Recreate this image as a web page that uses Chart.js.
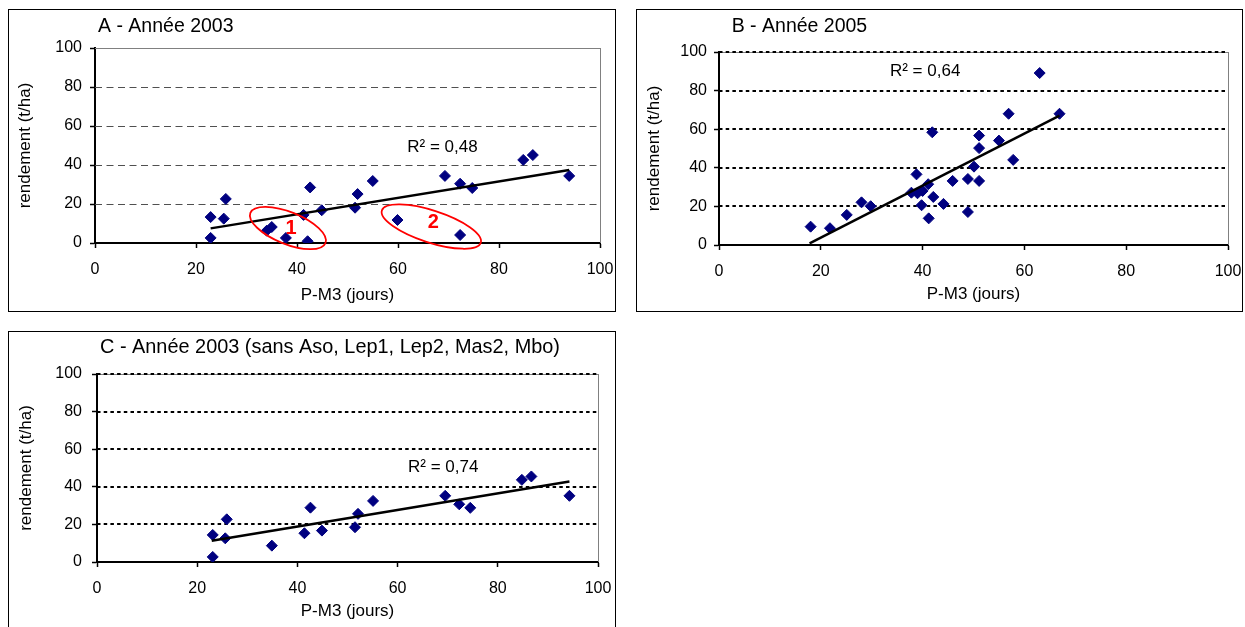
<!DOCTYPE html>
<html><head><meta charset="utf-8">
<script src="https://cdn.jsdelivr.net/npm/chart.js@4.4.1/dist/chart.umd.min.js"></script>
<style>
html,body{margin:0;padding:0;background:#fff;overflow:hidden;width:1245px;height:627px}
.box{position:absolute;border:1px solid #000;background:#fff;box-sizing:border-box}
.box canvas{position:absolute;left:0;top:0}
</style></head><body>
<div class="box" style="left:8px;top:9px;width:608px;height:303px"><canvas id="cA" width="606" height="301"></canvas></div>
<div class="box" style="left:636px;top:9px;width:607px;height:303px"><canvas id="cB" width="605" height="301"></canvas></div>
<div class="box" style="left:8px;top:331px;width:608px;height:303px"><canvas id="cC" width="606" height="301"></canvas></div>
<script>
// ---------------- data ----------------
const xTickLabels = [0, 20, 40, 60, 80, 100];
const yTickLabels = [0, 20, 40, 60, 80, 100];

const titleA = 'A - Année 2003';
const titleB = 'B - Année 2005';
const titleC = 'C - Année 2003 (sans Aso, Lep1, Lep2, Mas2, Mbo)';
const xAxisTitle = 'P-M3 (jours)';
const yAxisTitle = 'rendement (t/ha)';

// A - 2003
const pm3_2003 = [22.9, 22.9, 25.9, 25.5, 34.0, 35.0, 37.8, 41.3, 42.1, 42.6, 44.9, 51.5, 52.0, 55.0, 59.9, 69.3, 72.3, 74.7, 72.3, 84.8, 86.7, 93.9];
const rdt_2003 = [13.3, 2.6, 22.6, 12.5, 6.3, 8.2, 2.6, 14.4, 0.9, 28.5, 16.8, 18.1, 25.1, 31.8, 11.8, 34.4, 30.4, 28.2, 4.1, 42.6, 45.1, 34.4];
const trend2003_x = [22.9, 93.9];
const trend2003_y = [7.5, 37.4];
const r2_2003 = 'R² = 0,48';

// B - 2005
const pm3_2005 = [18.0, 21.8, 25.1, 28.0, 29.8, 37.8, 38.8, 39.0, 40.0, 39.8, 41.1, 41.2, 41.9, 42.1, 44.1, 45.9, 48.9, 48.9, 50.1, 51.1, 51.1, 51.1, 55.0, 56.9, 57.8, 63.0, 66.9];
const rdt_2005 = [9.5, 8.7, 15.6, 22.1, 20.1, 27.1, 36.6, 26.8, 28.0, 20.6, 31.5, 13.8, 58.4, 24.9, 21.3, 33.2, 34.2, 17.1, 40.6, 33.2, 50.2, 56.7, 54.1, 68.0, 44.1, 89.1, 68.0];
const trend2005_x = [17.8, 66.9];
const trend2005_y = [0.9, 67.0];
const r2_2005 = 'R² = 0,64';

// C - 2003 sans Aso, Lep1, Lep2, Mas2, Mbo
const pm3_2003c = [23.1, 23.1, 25.9, 25.6, 34.9, 41.4, 42.6, 44.9, 51.5, 52.1, 55.1, 69.5, 72.3, 74.5, 84.8, 86.7, 94.3];
const rdt_2003c = [14.4, 2.7, 22.7, 12.6, 8.7, 15.3, 28.9, 16.7, 18.5, 25.6, 32.5, 35.2, 30.7, 28.8, 43.7, 45.5, 35.2];
const trend2003c_x = [22.9, 94.3];
const trend2003c_y = [11.3, 42.8];
const r2_2003c = 'R² = 0,74';

const groupLabels = ['1', '2'];

// ---------------- drawing ----------------
const FONT = '"Liberation Sans", Arial, sans-serif';

const decor = {
  id: 'decor',
  beforeDatasetsDraw(chart, args, o) {
    const {ctx, chartArea: ca, scales: {x, y}} = chart;
    ctx.save();
    yTickLabels.forEach(v => {
      if (v === yTickLabels[0]) return;
      const py = y.getPixelForValue(v);
      if (v === yTickLabels[yTickLabels.length - 1]) {
        ctx.strokeStyle = '#808080'; ctx.lineWidth = 1; ctx.setLineDash([]);
        ctx.beginPath(); ctx.moveTo(ca.left, Math.round(py) + 0.5); ctx.lineTo(ca.right, Math.round(py) + 0.5); ctx.stroke();
        if (o.grid === 'dashed') return;
      }
      if (o.grid === 'dashed') {
        ctx.strokeStyle = '#505050'; ctx.lineWidth = 1; ctx.setLineDash([7, 4.5]);
        ctx.beginPath(); ctx.moveTo(ca.left, Math.round(py) + 0.5); ctx.lineTo(ca.right, Math.round(py) + 0.5); ctx.stroke();
      } else {
        ctx.strokeStyle = '#000'; ctx.lineWidth = 2; ctx.setLineDash([3.5, 3.2]);
        ctx.beginPath(); ctx.moveTo(ca.left, Math.round(py)); ctx.lineTo(ca.right, Math.round(py)); ctx.stroke();
      }
    });
    // right border of plot area
    ctx.setLineDash([]);
    ctx.strokeStyle = '#808080'; ctx.lineWidth = 1;
    ctx.beginPath(); ctx.moveTo(Math.round(ca.right) + 0.5, ca.top); ctx.lineTo(Math.round(ca.right) + 0.5, ca.bottom); ctx.stroke();
    ctx.restore();
  },
  afterDatasetsDraw(chart, args, o) {
    const {ctx, scales: {x, y}} = chart;
    ctx.save();
    (o.groups || []).forEach(g => {
      const cx = x.getPixelForValue(g.at[0]), cy = y.getPixelForValue(g.at[1]);
      ctx.strokeStyle = '#ff0000'; ctx.lineWidth = 1.75;
      ctx.beginPath(); ctx.ellipse(cx, cy, g.rx, g.ry, g.rot * Math.PI / 180, 0, Math.PI * 2); ctx.stroke();
      ctx.fillStyle = '#ff0000'; ctx.font = 'bold 20px ' + FONT;
      ctx.textAlign = 'center'; ctx.textBaseline = 'middle';
      ctx.fillText(g.label, x.getPixelForValue(g.labelAt[0]), y.getPixelForValue(g.labelAt[1]));
    });
    ctx.fillStyle = '#000'; ctx.font = '17px ' + FONT;
    ctx.textAlign = 'center'; ctx.textBaseline = 'middle';
    ctx.fillText(o.r2, x.getPixelForValue(o.r2At[0]), y.getPixelForValue(o.r2At[1]));
    ctx.restore();
  },
  afterDraw(chart, args, o) {
    const ctx = chart.ctx;
    ctx.save();
    ctx.fillStyle = '#000'; ctx.font = o.titleSize + 'px ' + FONT;
    ctx.textAlign = 'left'; ctx.textBaseline = 'middle';
    ctx.fillText(o.title, o.titlePos[0], o.titlePos[1]);
    ctx.restore();
  }
};

function noPad(s) { s.paddingLeft = 0; s.paddingRight = 0; s.paddingTop = 0; s.paddingBottom = 0; }

function makeChart(id, cfg) {
  const canvas = document.getElementById(id);
  const W = canvas.width, H = canvas.height;
  const pts = cfg.xs.map((v, i) => ({x: v, y: cfg.ys[i]}));
  const trend = cfg.tx.map((v, i) => ({x: v, y: cfg.ty[i]}));
  const f = s => ({family: FONT, size: s});
  return new Chart(canvas, {
    type: 'scatter',
    data: {datasets: [
      {data: trend, showLine: true, borderColor: '#000', borderWidth: 2.5, pointRadius: 0, order: 0},
      {data: pts, pointStyle: 'rectRot', pointRadius: 5.5, backgroundColor: '#000080', borderColor: '#000080', borderWidth: 1, order: 1}
    ]},
    options: {
      responsive: false, animation: false, events: [],
      layout: {padding: {left: 0, top: cfg.area.top, right: W - cfg.area.right, bottom: 0}},
      plugins: {
        legend: {display: false}, tooltip: {enabled: false}, title: {display: false},
        decor: {grid: cfg.grid, title: cfg.title, titleSize: cfg.titleSize, titlePos: cfg.titlePos, r2: cfg.r2, r2At: cfg.r2At, groups: cfg.groups}
      },
      scales: {
        x: {
          type: 'linear', position: 'bottom',
          min: xTickLabels[0], max: xTickLabels[xTickLabels.length - 1],
          afterBuildTicks: s => { s.ticks = xTickLabels.map(v => ({value: v})); },
          ticks: {color: '#000', font: f(16), padding: cfg.xPad, maxRotation: 0, autoSkip: false},
          grid: {drawOnChartArea: false, drawTicks: true, tickLength: 5, tickColor: '#000', tickWidth: 1.5},
          border: {display: true, color: '#000', width: 2},
          title: {display: true, text: xAxisTitle, color: '#000', font: f(17), padding: {top: 0, bottom: cfg.xTitlePad}},
          afterFit: s => { s.height = H - cfg.area.bottom; noPad(s); }
        },
        y: {
          type: 'linear', position: 'left',
          min: yTickLabels[0], max: yTickLabels[yTickLabels.length - 1],
          afterBuildTicks: s => { s.ticks = yTickLabels.map(v => ({value: v})); },
          ticks: {color: '#000', font: f(16), padding: cfg.yPad, autoSkip: false},
          grid: {drawOnChartArea: false, drawTicks: true, tickLength: 5, tickColor: '#000', tickWidth: 1.5},
          border: {display: true, color: '#000', width: 2},
          title: {display: true, text: yAxisTitle, color: '#000', font: f(17), padding: {top: cfg.yTitlePad, bottom: 0}},
          afterFit: s => { s.width = cfg.area.left; noPad(s); }
        }
      }
    },
    plugins: [decor]
  });
}

makeChart('cA', {
  xs: pm3_2003, ys: rdt_2003, tx: trend2003_x, ty: trend2003_y,
  area: {left: 86, right: 591, top: 38, bottom: 233},
  grid: 'dashed', title: titleA, titleSize: 19.5, titlePos: [89, 16.5],
  r2: r2_2003, r2At: [68.8, 49.2],
  xPad: 12, yPad: 8, xTitlePad: 5.5, yTitlePad: 5.8,
  groups: [
    {label: groupLabels[0], at: [38.2, 7.7], labelAt: [38.8, 7.2], rx: 40.5, ry: 16, rot: 22},
    {label: groupLabels[1], at: [66.6, 8.4], labelAt: [67.0, 10.5], rx: 52, ry: 16, rot: 18}
  ]
});
makeChart('cB', {
  xs: pm3_2005, ys: rdt_2005, tx: trend2005_x, ty: trend2005_y,
  area: {left: 82, right: 591, top: 42, bottom: 235},
  grid: 'dotted', title: titleB, titleSize: 19.5, titlePos: [94.7, 16.5],
  r2: r2_2005, r2At: [40.5, 89.9],
  xPad: 12, yPad: 7, xTitlePad: 6, yTitlePad: 6.8,
  groups: []
});
makeChart('cC', {
  xs: pm3_2003c, ys: rdt_2003c, tx: trend2003c_x, ty: trend2003c_y,
  area: {left: 88, right: 589, top: 42, bottom: 230},
  grid: 'dotted', title: titleC, titleSize: 19.9, titlePos: [91, 16],
  r2: r2_2003c, r2At: [69.1, 50.1],
  xPad: 12, yPad: 10, xTitlePad: 11.5, yTitlePad: 7.5,
  groups: []
});
</script>
</body></html>
